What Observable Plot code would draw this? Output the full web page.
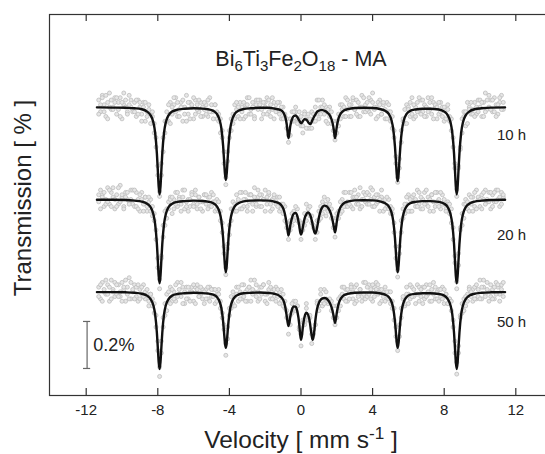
<!DOCTYPE html>
<html><head><meta charset="utf-8">
<script src="https://cdn.jsdelivr.net/npm/d3@7"></script>
<script src="https://cdn.jsdelivr.net/npm/@observablehq/plot@0.6"></script>
<style>
html,body{margin:0;padding:0;background:#fff;overflow:hidden;}
#chart{width:545px;height:454px;}
</style></head><body><div id="chart"></div>
<script>
// channel velocities (mm/s), shared by both folded halves of each spectrum
const velocity = [
-11.3,-11.2,-11.1,-11,-10.9,-10.8,-10.7,-10.6,-10.5,-10.4,
-10.3,-10.2,-10.1,-10,-9.9,-9.8,-9.7,-9.6,-9.5,-9.4,
-9.3,-9.2,-9.1,-9,-8.9,-8.8,-8.7,-8.6,-8.5,-8.4,
-8.3,-8.2,-8.1,-8,-7.9,-7.8,-7.7,-7.6,-7.5,-7.4,
-7.3,-7.2,-7.1,-7,-6.9,-6.8,-6.7,-6.6,-6.5,-6.4,
-6.3,-6.2,-6.1,-6,-5.9,-5.8,-5.7,-5.6,-5.5,-5.4,
-5.3,-5.2,-5.1,-5,-4.9,-4.8,-4.7,-4.6,-4.5,-4.4,
-4.3,-4.2,-4.1,-4,-3.9,-3.8,-3.7,-3.6,-3.5,-3.4,
-3.3,-3.2,-3.1,-3,-2.9,-2.8,-2.7,-2.6,-2.5,-2.4,
-2.3,-2.2,-2.1,-2,-1.9,-1.8,-1.7,-1.6,-1.5,-1.4,
-1.3,-1.2,-1.1,-1,-0.9,-0.8,-0.7,-0.6,-0.5,-0.4,
-0.3,-0.2,-0.1,0,0.1,0.2,0.3,0.4,0.5,0.6,
0.7,0.8,0.9,1,1.1,1.2,1.3,1.4,1.5,1.6,
1.7,1.8,1.9,2,2.1,2.2,2.3,2.4,2.5,2.6,
2.7,2.8,2.9,3,3.1,3.2,3.3,3.4,3.5,3.6,
3.7,3.8,3.9,4,4.1,4.2,4.3,4.4,4.5,4.6,
4.7,4.8,4.9,5,5.1,5.2,5.3,5.4,5.5,5.6,
5.7,5.8,5.9,6,6.1,6.2,6.3,6.4,6.5,6.6,
6.7,6.8,6.9,7,7.1,7.2,7.3,7.4,7.5,7.6,
7.7,7.8,7.9,8,8.1,8.2,8.3,8.4,8.5,8.6,
8.7,8.8,8.9,9,9.1,9.2,9.3,9.4,9.5,9.6,
9.7,9.8,9.9,10,10.1,10.2,10.3,10.4,10.5,10.6,
10.7,10.8,10.9,11,11.1,11.2,11.3];

// measured relative transmission (%), baseline = 0; two halves per spectrum
const t10 = [
.03,-.02,.05,.01,-.04,.02,.06,-.01,0,.04,
-.03,.02,.04,-.05,.01,.03,-.02,.05,0,-.01,
.02,-.04,.03,0,-.03,.02,-.06,-.02,-.01,-.07,
-.04,-.11,-.13,-.29,-.38,-.24,-.19,-.06,-.02,-.06,
.02,-.03,.01,.04,-.04,-.01,.02,-.06,0,.05,
-.03,.02,0,-.05,.03,.01,-.02,.02,-.04,-.01,
.01,-.04,.04,-.02,-.02,.01,-.05,-.03,-.11,-.10,
-.24,-.30,-.19,-.13,-.05,-.07,.01,-.01,-.04,.02,
0,-.05,.01,.04,-.03,-.01,.02,-.04,.03,-.01,
.03,-.01,-.03,.02,.04,-.02,.01,.04,-.05,.01,
-.02,.02,-.05,0,-.04,-.09,-.12,-.12,-.02,-.06,
-.02,-.07,-.02,-.08,-.11,-.02,-.05,-.09,-.05,-.02,
-.06,0,.03,-.05,0,.03,-.03,0,-.07,0,
-.02,-.10,-.14,-.06,-.08,.01,-.01,-.04,.04,-.01,
-.04,.01,.03,-.01,.03,-.04,0,.05,-.02,.01,
.02,-.02,.03,.06,-.01,0,-.04,.03,-.03,.01,
-.05,.02,-.02,-.06,-.04,-.13,-.21,-.32,-.26,-.10,
-.06,-.07,.01,0,-.04,.04,-.05,0,.02,-.02,
.03,-.02,.01,-.04,.04,-.01,-.03,.02,0,-.05,
-.03,.02,0,-.06,-.01,.01,-.06,-.05,-.17,-.26,
-.38,-.25,-.18,-.05,-.04,-.08,.02,0,-.03,-.01,
.02,-.03,.03,0,-.04,.02,.06,-.01,0,.03,
-.02,.04,.01,-.03,.02,.05,-.01];
const t10b = [
-.03,.01,.04,-.02,.05,-.05,0,.03,-.01,.02,
.04,-.01,-.04,.02,.06,0,-.03,.01,.03,-.02,
-.02,.03,-.03,.02,-.06,0,.02,-.04,.01,-.03,
-.02,-.07,-.17,-.25,-.36,-.29,-.13,-.11,-.06,.01,
-.07,0,.04,-.02,.02,-.04,0,.03,-.03,-.06,
.02,-.05,.01,.04,-.03,-.01,.03,-.04,0,.02,
-.03,.03,-.02,.01,-.05,.01,-.02,-.06,-.05,-.13,
-.19,-.33,-.23,-.10,-.10,-.03,-.05,.02,0,-.05,
-.02,.02,-.04,.01,.04,-.03,0,-.05,.01,.03,
.01,-.05,.02,0,-.03,.03,-.04,-.01,.02,-.02,
.02,-.03,0,-.05,-.03,-.05,-.15,-.05,-.06,-.02,
0,-.05,-.05,-.04,-.08,-.03,-.09,-.03,-.09,-.09,
-.03,-.06,-.03,.03,-.03,0,.01,-.06,-.01,-.04,
-.07,-.06,-.12,-.11,-.03,-.05,.01,0,-.04,.03,
.01,-.04,.04,-.01,-.03,.02,-.04,0,.04,-.02,
-.01,.04,-.03,.02,0,-.05,.02,.01,-.03,.02,
-.01,-.05,.01,-.02,-.09,-.10,-.24,-.30,-.22,-.15,
-.05,-.01,-.07,-.01,.02,-.03,.01,-.04,-.02,.04,
-.03,.03,-.04,0,-.02,.02,.04,-.05,.01,0,
.02,-.02,-.04,0,-.05,-.01,-.04,-.10,-.13,-.24,
-.35,-.26,-.17,-.11,-.02,-.02,-.07,-.01,.02,-.03,
-.04,0,-.02,.03,.02,-.04,-.02,.03,.05,-.01,
.03,-.02,-.04,.01,.04,-.01,.02];
const t20 = [
-.01,.04,.02,-.03,0,.05,-.02,.03,.01,-.04,
.02,-.02,.06,.01,-.03,.03,0,-.01,.04,-.02,
-.03,.03,0,-.05,.03,-.02,.01,-.05,-.01,0,
-.03,-.09,-.17,-.25,-.38,-.24,-.11,-.11,-.04,-.04,
.01,-.06,0,.03,-.03,.01,-.02,.04,-.04,-.01,
0,-.03,.03,-.02,.02,-.04,.01,-.01,-.05,.02,
-.02,.01,-.03,.03,-.01,-.05,0,-.05,-.05,-.14,
-.20,-.32,-.21,-.15,-.04,-.04,-.05,.02,-.01,-.04,
.03,-.03,0,-.05,.02,.02,-.02,.05,-.03,.01,
-.03,.02,0,.04,-.02,.02,-.05,0,.01,-.02,
.01,-.05,-.02,-.06,-.03,-.12,-.17,-.09,-.11,-.05,
-.08,-.04,-.10,-.17,-.10,-.11,-.02,-.06,-.07,-.07,
-.12,-.17,-.09,-.09,-.03,-.06,.01,-.02,-.05,-.02,
-.08,-.08,-.16,-.06,-.05,-.06,0,.03,-.03,-.01,
.03,-.03,.01,.04,-.02,.02,-.04,0,.03,-.01,
-.02,.02,.05,-.03,.01,-.02,.02,-.05,.01,-.01,
0,-.03,0,-.06,-.06,-.10,-.25,-.30,-.20,-.14,
-.04,-.06,-.02,.02,-.05,.01,-.01,-.03,.04,-.02,
-.04,0,.03,-.02,.01,-.05,.02,-.01,-.03,.03,
0,-.04,.02,-.02,-.04,-.01,-.06,-.04,-.17,-.24,
-.35,-.28,-.12,-.11,-.02,-.02,-.04,.02,-.02,.01,
-.03,.04,0,-.03,.02,0,.04,-.01,.03,-.04,
.02,-.01,.04,0,-.03,.03,.01];
const t20b = [
.02,-.04,.01,.03,-.02,-.01,.04,-.03,.05,0,
-.03,.05,-.01,.02,-.04,.01,.03,-.02,0,.04,
.04,-.03,-.04,.02,0,-.05,.01,-.03,.01,-.05,
-.07,-.06,-.13,-.29,-.34,-.25,-.16,-.05,-.08,-.01,
0,.01,-.04,-.02,.03,0,-.05,.01,.04,-.03,
-.05,0,.02,-.03,.04,-.02,.01,-.04,-.01,.02,
.02,-.04,.01,-.03,.02,-.01,-.04,-.01,-.09,-.10,
-.23,-.29,-.19,-.11,-.09,-.01,-.02,-.05,0,.03,
-.04,0,.03,-.03,-.01,.02,-.05,.01,-.02,.04,
.02,-.03,0,-.05,.01,.03,-.02,-.04,.02,-.01,
-.03,.01,-.04,-.02,-.09,-.10,-.12,-.13,-.06,-.09,
-.03,-.09,-.09,-.12,-.13,-.06,-.09,-.04,-.03,-.10,
-.11,-.13,-.14,-.05,-.08,-.01,-.04,-.07,0,-.04,
-.04,-.12,-.11,-.08,-.08,-.01,-.05,-.03,.03,-.03,
-.02,.03,-.04,.01,.01,-.02,.05,-.03,0,.02,
.03,-.02,0,.04,-.03,.02,-.01,0,.04,-.05,
-.04,.01,-.04,-.03,-.04,-.14,-.20,-.33,-.23,-.09,
-.08,-.02,.01,-.05,0,-.05,.02,0,-.03,.03,
.01,-.04,-.02,.04,-.03,0,.02,-.05,.03,-.01,
-.03,.03,-.02,0,-.05,-.02,-.02,-.10,-.12,-.27,
-.38,-.23,-.13,-.06,-.08,0,-.01,-.05,.01,-.05,
.03,-.04,.01,0,-.04,.03,-.02,0,-.01,.03,
-.03,.03,-.01,.04,.01,-.02,.02];
const t50 = [
.02,-.03,.04,0,-.01,.03,-.04,.05,.01,-.02,
-.01,.03,-.02,.04,.01,-.04,.02,.06,-.03,0,
.03,-.02,-.04,.01,-.01,.03,-.03,-.01,-.06,-.01,
-.06,-.05,-.15,-.21,-.36,-.26,-.11,-.10,-.01,-.04,
.02,-.04,0,-.04,.04,-.01,-.02,.02,-.05,.02,
-.03,0,.02,-.04,.02,.03,-.02,-.01,.01,-.05,
.01,-.03,.02,-.02,.01,-.05,-.01,.01,-.07,-.09,
-.16,-.27,-.15,-.10,-.02,-.05,-.02,.02,-.04,0,
-.03,.03,0,-.04,.02,.05,-.01,0,.03,-.04,
.02,-.01,.03,-.04,-.01,.04,-.03,0,-.02,.02,
-.02,0,-.04,-.01,-.07,-.08,-.18,-.10,-.09,-.04,
-.08,-.06,-.15,-.23,-.13,-.13,-.05,-.11,-.11,-.22,
-.18,-.14,-.04,-.06,-.01,-.06,.01,-.03,-.05,-.04,
-.04,-.11,-.14,-.06,-.08,-.02,.02,-.03,.01,-.04,
0,.03,-.03,.02,-.04,-.01,.01,-.02,.04,-.03,
-.02,.03,.01,-.04,.02,.04,-.01,.01,-.04,0,
.02,-.03,0,-.05,-.04,-.12,-.15,-.25,-.14,-.11,
-.03,-.06,.02,-.01,-.03,.02,-.02,-.01,.03,-.04,
-.02,.02,-.03,.03,-.01,-.04,.01,.04,-.03,0,
.01,-.02,.02,-.05,-.01,-.05,-.03,-.08,-.12,-.26,
-.35,-.23,-.10,-.09,-.03,-.06,-.01,.02,-.02,.01,
.02,-.03,.01,.05,-.03,.02,-.01,.04,0,-.02,
.01,-.03,.04,.02,-.01,.03,-.02];
const t50b = [
-.02,.03,-.04,.01,.05,-.01,.02,-.03,0,.04,
.03,-.02,0,-.04,.02,.05,-.01,-.03,.04,.01,
-.03,.02,.03,-.03,.02,-.02,0,.01,-.04,-.01,
-.03,-.09,-.10,-.25,-.32,-.21,-.15,-.05,-.08,0,
-.05,.01,-.03,.03,-.02,.01,.04,-.05,0,-.03,
.02,-.04,0,.03,-.05,.01,-.02,.02,-.03,0,
-.03,.02,-.04,.01,-.02,.01,-.04,-.01,-.04,-.11,
-.14,-.22,-.20,-.07,-.07,0,-.06,-.01,.02,-.03,
.03,-.02,-.04,.01,.02,-.04,.01,.05,-.02,0,
-.03,.02,.03,-.01,-.05,.01,.02,-.03,.01,-.04,
.01,-.05,.01,-.06,-.04,-.11,-.12,-.14,-.05,-.07,
-.04,-.06,-.16,-.18,-.12,-.14,-.07,-.12,-.10,-.18,
-.16,-.14,-.05,-.08,.01,-.04,-.05,0,-.04,-.03,
-.08,-.06,-.11,-.11,-.03,-.06,-.01,.02,-.04,.01,
-.03,.02,0,-.05,.03,-.02,.01,-.04,-.01,.04,
.02,-.01,-.03,.03,-.02,.01,.03,-.05,.01,-.02,
-.04,0,-.03,0,-.07,-.07,-.19,-.21,-.19,-.07,
-.02,-.05,-.01,-.05,.03,-.02,.01,-.05,-.01,.02,
.01,-.05,.02,-.02,0,.03,-.04,-.01,.02,-.03,
-.04,.01,-.03,.01,-.01,-.05,-.03,-.04,-.15,-.21,
-.30,-.26,-.11,-.05,-.08,-.02,-.04,.01,0,-.04,
-.03,.03,-.02,-.03,.02,.05,-.02,.01,-.04,.03,
-.03,.02,-.01,.03,-.04,.01,.04];

// fitted curves: velocity grid and absorption (%)
const fitVelocity = [
-11.4,-10.5,-9.8,-9.3,-8.9,-8.6,-8.4,-8.25,-8.15,-8.05,-8.0,-7.95,-7.9,
-7.85,-7.8,-7.75,-7.65,-7.55,-7.4,-7.2,-6.9,-6.5,-6.0,-5.6,
-5.2,-4.9,-4.7,-4.55,-4.45,-4.35,-4.3,-4.25,-4.2,
-4.15,-4.1,-4.05,-3.95,-3.85,-3.7,-3.5,-3.2,-2.8,-2.3,-1.8,-1.5,
-1.2,-1.05,-0.95,-0.85,-0.8,-0.75,-0.7,-0.65,-0.6,-0.5,-0.4,-0.3,-0.2,-0.1,-0.05,0,0.05,0.1,0.2,0.3,0.4,0.5,0.55,0.6,0.65,0.7,0.75,0.8,0.85,0.9,1.0,1.1,1.2,1.3,1.4,1.5,1.6,1.7,1.8,1.85,1.9,1.95,2.0,2.1,2.2,2.35,2.6,3.0,
3.5,4.0,4.4,4.7,4.9,5.05,5.15,5.25,5.3,5.35,5.4,
5.45,5.5,5.55,5.65,5.75,5.9,6.1,6.4,6.8,7.2,
7.7,8.0,8.2,8.35,8.45,8.55,8.6,8.65,8.7,
8.75,8.8,8.85,8.95,9.05,9.2,9.4,9.7,10.1,10.6,11.4];
const fit10 = [
.001,.002,.003,.005,.009,.019,.035,.064,.108,.198,.267,.339,.372,
.339,.267,.198,.108,.064,.035,.019,.011,.007,.005,.006,
.009,.016,.029,.054,.090,.165,.223,.282,.310,
.282,.223,.165,.090,.054,.029,.016,.008,.005,.003,.003,.006,
.011,.017,.028,.051,.072,.106,.132,.111,.081,.051,.038,.036,.043,.057,.064,.068,.066,.060,.051,.053,.064,.072,.070,.062,.053,.045,.038,.032,.026,.019,.015,.013,.013,.015,.019,.026,.034,.051,.081,.106,.132,.111,.083,.047,.030,.017,.009,.004,
.003,.004,.008,.016,.029,.055,.092,.168,.226,.287,.315,
.287,.226,.168,.092,.055,.029,.016,.010,.007,.007,
.010,.019,.035,.064,.108,.198,.267,.339,.372,
.339,.267,.198,.108,.064,.035,.019,.009,.005,.002,.001];
const fit20 = [
.001,.001,.002,.005,.009,.018,.033,.062,.104,.190,.257,.325,.357,
.325,.257,.190,.104,.062,.033,.018,.010,.007,.005,.006,
.009,.016,.029,.054,.090,.165,.223,.282,.310,
.282,.223,.165,.090,.054,.029,.016,.008,.005,.004,.005,.009,
.017,.030,.047,.081,.106,.132,.153,.136,.111,.077,.060,.057,.072,.111,.136,.149,.140,.119,.081,.062,.055,.064,.074,.089,.106,.126,.140,.145,.136,.119,.077,.047,.032,.026,.028,.034,.047,.068,.102,.123,.140,.123,.094,.055,.034,.019,.009,.004,
.003,.004,.008,.016,.029,.054,.090,.165,.223,.282,.310,
.282,.223,.165,.090,.054,.029,.016,.010,.007,.007,
.010,.018,.033,.062,.104,.190,.257,.325,.357,
.325,.257,.190,.104,.062,.033,.018,.009,.005,.002,.001];
const fit50 = [
.001,.001,.002,.004,.008,.016,.031,.057,.095,.175,.236,.299,.328,
.299,.236,.175,.095,.057,.031,.016,.009,.006,.004,.005,
.007,.012,.022,.041,.069,.127,.171,.217,.238,
.217,.171,.127,.069,.041,.022,.012,.006,.004,.003,.005,.008,
.017,.028,.043,.077,.102,.128,.145,.132,.106,.074,.062,.064,.085,.136,.179,.204,.187,.153,.106,.089,.098,.132,.162,.187,.204,.191,.162,.123,.094,.072,.047,.034,.028,.026,.028,.034,.045,.064,.094,.115,.132,.115,.089,.051,.032,.017,.009,.004,
.003,.003,.006,.012,.022,.041,.069,.127,.171,.217,.238,
.217,.171,.127,.069,.041,.022,.012,.008,.006,.006,
.009,.016,.031,.057,.095,.175,.236,.299,.328,
.299,.236,.175,.095,.057,.031,.016,.008,.004,.002,.001];

const spectra = ["10 h", "20 h", "50 h"];
const offsets = [0, -0.393, -0.786];       // vertical stacking of the spectra (%)
const labelDrop = [-0.12, -0.15, -0.13];
const labelVelocity = 10.95;
const xTicks = [-12, -8, -4, 0, 4, 8, 12];
const title = "Bi6Ti3Fe2O18 - MA";
const xLabelParts = ["Velocity [ mm s", "-1", " ]"];
const xLabel = xLabelParts.join("");
const yLabel = "Transmission [ % ]";
const scaleBar = {x: -11.95, from: -1.112, to: -0.912, label: "0.2%"};

const measured = [[t10, t10b], [t20, t20b], [t50, t50b]];
const fits = [fit10, fit20, fit50];
const points = [], curves = [];
spectra.forEach((s, k) => {
  measured[k].forEach(m => {
    for (let i = 0; i < Math.min(velocity.length, m.length); i++)
      points.push({v: velocity[i], y: m[i] + offsets[k], s});
  });
  const f = fits[k];
  for (let i = 0; i < Math.min(fitVelocity.length, f.length); i++)
    curves.push({v: fitVelocity[i], y: -f[i] + offsets[k], s});
});
const labels = spectra.map((s, k) => ({s, v: labelVelocity, y: offsets[k] + labelDrop[k]}));

const font = "'Liberation Sans', Arial, Helvetica, sans-serif";
const plot = Plot.plot({
  width: 545, height: 454,
  marginLeft: 49, marginRight: -7, marginTop: 14, marginBottom: 59,
  style: {fontFamily: font, color: "#222", background: "#fff", overflow: "hidden"},
  x: {domain: [-14.05, 14.05], axis: null},
  y: {domain: [-1.227, 0.394], axis: null},
  marks: [
    Plot.dot(points, {x: "v", y: "y", r: 2, fill: "#e6e6e6", stroke: "#bdbdbd", strokeWidth: 0.8}),
    Plot.line(curves, {x: "v", y: "y", z: "s", stroke: "#111", strokeWidth: 2.4, curve: "monotone-x"}),
    Plot.text(labels, {x: "v", y: "y", text: "s", textAnchor: "start", fontSize: 15, fill: "#222"}),
    Plot.ruleX([scaleBar], {x: "x", y1: "from", y2: "to", stroke: "#666", strokeWidth: 1.2}),
    Plot.ruleY([scaleBar], {y: "from", x1: d => d.x - 0.2, x2: d => d.x + 0.2, stroke: "#666", strokeWidth: 1.2}),
    Plot.ruleY([scaleBar], {y: "to", x1: d => d.x - 0.2, x2: d => d.x + 0.2, stroke: "#666", strokeWidth: 1.2}),
    Plot.text([scaleBar], {x: d => d.x + 0.35, y: d => (d.from + d.to) / 2, text: "label", textAnchor: "start", fontSize: 18, fill: "#222"}),
    Plot.text([title], {frameAnchor: "top", dy: 45, text: d => d, fontSize: 21.5, fill: "#222", lineAnchor: "middle"}),
    Plot.frame({stroke: "#333", strokeWidth: 1.2}),
    Plot.ruleX(xTicks, {x: d => d, insetTop: 374, stroke: "#333", strokeWidth: 1.2}),
    Plot.ruleX(xTicks, {x: d => d, insetBottom: 374, stroke: "#333", strokeWidth: 1.2}),
    Plot.axisX({ticks: xTicks, tickSize: 0, tickPadding: 9, tickFormat: d => String(d), fontSize: 15, label: null}),
    Plot.text([xLabel], {frameAnchor: "bottom", dy: 45, text: d => d, fontSize: 24.5, lineAnchor: "middle", fill: "#222"}),
    Plot.text([yLabel], {frameAnchor: "left", dx: -26, dy: -7, rotate: -90, text: d => d, fontSize: 24, textAnchor: "middle", lineAnchor: "middle", fill: "#222"})
  ]
});

function rich(svg, plain, parts, shiftPx) {
  d3.select(svg).selectAll("text").filter(function() { return this.textContent === plain; }).each(function() {
    const t = d3.select(this);
    t.text(null);
    let cur = 0;
    parts.forEach(([str, kind]) => {
      const target = kind === "sub" ? shiftPx : kind === "sup" ? -shiftPx : 0;
      const ts = t.append("tspan").text(str);
      if (kind !== "n") ts.attr("font-size", "70%");
      if (target !== cur) ts.attr("dy", target - cur);
      cur = target;
    });
  });
}
rich(plot, title, title.split(/(\d+)/).filter(s => s !== "").map(s => [s, /^\d+$/.test(s) ? "sub" : "n"]), 5);
rich(plot, xLabel, [[xLabelParts[0], "n"], [xLabelParts[1], "sup"], [xLabelParts[2], "n"]], 9);

document.getElementById("chart").appendChild(plot);
</script></body></html>
